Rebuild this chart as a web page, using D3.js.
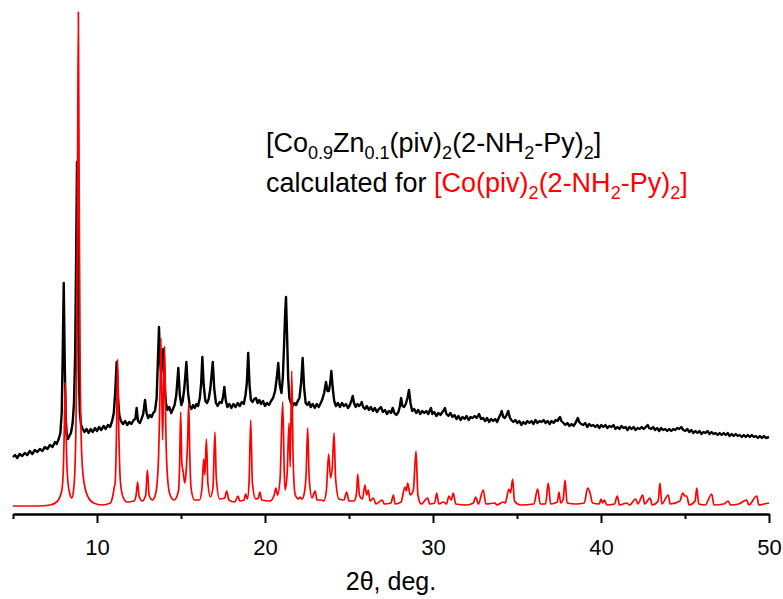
<!DOCTYPE html>
<html>
<head>
<meta charset="utf-8">
<script src="https://cdn.jsdelivr.net/npm/d3@7"></script>
<style>
  body { margin: 0; background: #fff; }
  svg { display: block; }
  text { font-family: "Liberation Sans", Arial, sans-serif; }
</style>
</head>
<body>
<svg id="chart" width="783" height="599"></svg>
<script>
// Measured powder pattern, [Co0.9Zn0.1(piv)2(2-NH2-Py)2]: [2theta, intensity (a.u.)]
const measured = [
  [5.0,56],[5.12,58],[5.25,55],[5.4,59],[5.55,57],[5.7,60],[5.85,58],[6.0,62],[6.15,59],[6.3,63],
  [6.45,61],[6.6,64],[6.75,62],[6.9,66],[7.05,64],[7.2,68],[7.35,66],[7.5,71],[7.6,69],[7.72,74],
  [7.82,80],[7.9,100],[7.96,160],[8.02,230],[8.08,150],[8.14,95],[8.2,78],[8.27,74],[8.35,77],[8.45,80],
  [8.55,90],[8.63,110],[8.7,160],[8.76,260],[8.81,351],[8.86,250],[8.92,140],[8.98,100],[9.05,88],[9.15,84],
  [9.25,81],[9.38,84],[9.5,80],[9.62,84],[9.75,81],[9.88,85],[10.0,82],[10.12,86],[10.25,83],[10.4,87],
  [10.52,84],[10.65,88],[10.78,86],[10.9,92],[11.0,100],[11.08,120],[11.17,151],[11.25,115],[11.33,98],[11.42,92],
  [11.55,89],[11.68,92],[11.8,88],[11.92,91],[12.05,89],[12.18,93],[12.28,94],[12.36,105],[12.44,92],[12.55,90],
  [12.65,94],[12.75,99],[12.86,113],[12.95,100],[13.05,95],[13.15,98],[13.25,96],[13.35,100],[13.45,102],[13.55,115],
  [13.62,150],[13.69,186],[13.76,150],[13.82,140],[13.89,155],[13.95,164],[14.02,130],[14.1,110],[14.2,103],[14.3,106],
  [14.42,100],[14.52,104],[14.62,108],[14.72,118],[14.84,145],[14.93,118],[15.02,108],[15.1,112],[15.2,125],[15.32,151],
  [15.42,120],[15.52,107],[15.62,104],[15.72,108],[15.82,105],[15.92,109],[16.02,107],[16.12,115],[16.2,130],[16.27,156],
  [16.35,128],[16.45,112],[16.55,110],[16.65,114],[16.75,125],[16.89,151],[16.98,124],[17.08,110],[17.18,107],[17.3,111],
  [17.42,110],[17.5,116],[17.58,126],[17.66,113],[17.76,106],[17.88,109],[18.0,105],[18.12,109],[18.25,106],[18.38,110],
  [18.5,107],[18.62,111],[18.74,109],[18.84,118],[18.92,130],[19.0,160],[19.08,128],[19.16,113],[19.26,111],[19.36,114],
  [19.46,115],[19.56,110],[19.66,113],[19.76,109],[19.88,112],[20.0,107],[20.12,110],[20.24,108],[20.36,112],[20.48,115],
  [20.6,122],[20.7,135],[20.79,150],[20.88,128],[20.98,120],[21.06,135],[21.14,170],[21.2,200],[21.25,216],[21.31,180],
  [21.38,135],[21.45,115],[21.55,110],[21.65,107],[21.75,110],[21.85,108],[21.95,112],[22.05,115],[22.15,130],[22.24,155],
  [22.33,125],[22.42,110],[22.52,108],[22.62,111],[22.72,106],[22.84,109],[22.96,105],[23.08,109],[23.2,106],[23.32,110],
  [23.42,114],[23.52,120],[23.63,131],[23.72,122],[23.8,122],[23.88,130],[23.95,142],[24.03,125],[24.12,112],[24.22,107],
  [24.34,110],[24.46,106],[24.58,110],[24.7,107],[24.82,109],[24.94,105],[25.05,108],[25.14,112],[25.22,117],[25.3,110],
  [25.4,106],[25.5,109],[25.6,107],[25.7,109],[25.76,111],[25.84,106],[25.95,104],[26.06,107],[26.18,103],[26.3,106],
  [26.42,102],[26.54,105],[26.66,101],[26.78,104],[26.9,106],[27.02,101],[27.14,103],[27.26,99],[27.38,102],[27.5,100],
  [27.6,105],[27.7,100],[27.82,98],[27.94,101],[28.02,106],[28.1,115],[28.18,107],[28.28,106],[28.38,109],[28.48,115],
  [28.57,123],[28.66,110],[28.76,102],[28.88,104],[29.0,100],[29.12,103],[29.24,99],[29.36,102],[29.48,100],[29.6,102],
  [29.72,99],[29.82,103],[29.88,105],[29.96,99],[30.08,101],[30.2,97],[30.32,100],[30.44,98],[30.56,101],[30.66,103],
  [30.71,105],[30.8,99],[30.92,97],[31.04,100],[31.16,96],[31.28,98],[31.4,94],[31.52,97],[31.64,93],[31.76,96],
  [31.88,94],[32.0,97],[32.12,93],[32.24,96],[32.36,95],[32.48,97],[32.6,95],[32.74,99],[32.86,94],[32.98,95],
  [33.1,92],[33.22,95],[33.34,91],[33.46,94],[33.58,92],[33.7,94],[33.82,91],[33.94,96],[34.03,99],[34.09,102],
  [34.18,96],[34.28,95],[34.38,98],[34.48,102],[34.56,96],[34.66,93],[34.78,91],[34.9,93],[35.02,90],[35.14,92],
  [35.26,88],[35.38,91],[35.5,89],[35.62,92],[35.74,90],[35.86,92],[35.98,89],[36.1,93],[36.22,90],[36.34,92],
  [36.46,91],[36.58,93],[36.7,90],[36.82,92],[36.94,89],[37.06,92],[37.18,90],[37.3,93],[37.42,92],[37.5,95],
  [37.56,96],[37.64,92],[37.76,90],[37.88,88],[38.0,90],[38.12,87],[38.24,89],[38.36,87],[38.48,90],[38.56,93],
  [38.62,95],[38.7,91],[38.82,89],[38.94,88],[39.06,90],[39.18,86],[39.3,89],[39.42,87],[39.54,88],[39.66,86],
  [39.78,88],[39.9,85],[40.02,88],[40.14,86],[40.26,88],[40.38,85],[40.5,87],[40.62,86],[40.74,88],[40.86,84],
  [40.98,86],[41.1,84],[41.22,87],[41.34,85],[41.46,86],[41.58,83],[41.7,86],[41.82,84],[41.94,86],[42.06,83],
  [42.18,85],[42.3,84],[42.42,86],[42.54,84],[42.66,86],[42.78,88],[42.86,85],[42.98,84],[43.1,86],[43.22,83],
  [43.34,85],[43.46,82],[43.58,85],[43.7,83],[43.82,84],[43.94,82],[44.06,84],[44.18,82],[44.3,84],[44.42,83],
  [44.54,85],[44.66,84],[44.78,86],[44.9,83],[45.02,82],[45.14,84],[45.26,81],[45.38,83],[45.5,80],[45.62,82],
  [45.74,80],[45.86,82],[45.98,79],[46.1,81],[46.22,80],[46.34,82],[46.46,79],[46.58,81],[46.7,79],[46.82,80],
  [46.94,78],[47.06,80],[47.18,78],[47.3,80],[47.42,78],[47.54,80],[47.66,77],[47.78,79],[47.9,77],[48.02,79],
  [48.14,77],[48.26,78],[48.38,76],[48.5,78],[48.62,76],[48.74,78],[48.86,76],[48.98,78],[49.1,76],[49.22,77],
  [49.34,75],[49.46,77],[49.58,75],[49.7,77],[49.82,75],[50.0,76]
];

// Pattern calculated for [Co(piv)2(2-NH2-Py)2]: [2theta, intensity (a.u.)]
const calculated = [
  [5,7],[6.5,7],[7.2,8],[7.6,11],[7.9,22],[8.0,45],[8.06,90],[8.11,131],[8.16,80],[8.25,35],
  [8.4,18],[8.5,15],[8.6,22],[8.7,50],[8.78,140],[8.84,330],[8.89,501],[8.94,320],[9.0,140],[9.1,55],
  [9.25,28],[9.5,15],[9.8,10],[10.3,8],[10.8,10],[10.95,18],[11.03,26],[11.08,30],[11.15,70],[11.23,154],
  [11.3,80],[11.4,30],[11.55,16],[11.8,11],[12.2,12],[12.33,18],[12.42,31],[12.5,17],[12.7,12],[12.9,18],
  [13.0,43],[13.1,18],[13.3,13],[13.5,20],[13.65,50],[13.75,120],[13.81,175],[13.9,73],[13.96,120],[14.03,167],
  [14.1,80],[14.2,35],[14.35,18],[14.6,13],[14.85,22],[14.92,50],[14.98,101],[15.05,50],[15.14,40],[15.22,30],
  [15.3,40],[15.4,75],[15.46,110],[15.52,60],[15.6,25],[15.8,13],[16.1,13],[16.25,25],[16.35,54],[16.42,38],
  [16.51,74],[16.6,30],[16.75,16],[16.9,25],[17.02,81],[17.1,35],[17.3,14],[17.6,15],[17.72,22],[17.85,13],
  [18.2,11],[18.39,17],[18.5,12],[18.75,13],[18.85,19],[18.95,14],[19.05,30],[19.15,93],[19.25,30],[19.45,14],
  [19.6,15],[19.7,21],[19.8,13],[20.3,12],[20.55,18],[20.65,25],[20.75,18],[20.9,35],[21.05,111],[21.15,40],
  [21.2,23],[21.32,40],[21.43,90],[21.5,46],[21.59,142],[21.68,50],[21.8,18],[22.0,14],[22.08,16],[22.2,14],
  [22.35,21],[22.45,40],[22.54,85],[22.63,35],[22.8,15],[22.98,22],[23.1,13],[23.38,13],[23.5,12],[23.65,22],
  [23.79,59],[23.9,35],[24.0,45],[24.11,80],[24.2,35],[24.4,14],[24.7,13],[24.86,21],[25.0,12],[25.3,12],
  [25.45,20],[25.52,39],[25.62,18],[25.8,14],[25.95,28],[26.05,18],[26.15,23],[26.25,12],[26.45,15],[26.6,9],
  [26.98,13],[27.1,9],[27.5,10],[27.64,18],[27.75,9],[28.1,11],[28.33,26],[28.42,22],[28.49,30],[28.65,18],
  [28.83,23],[28.99,62],[29.1,18],[29.3,9],[29.68,15],[29.8,9],[30.1,10],[30.22,20],[30.35,9],[30.62,11],
  [30.8,9],[30.95,17],[31.08,13],[31.21,20],[31.35,9],[32.0,8],[32.4,10],[32.54,16],[32.7,9],[32.99,23],
  [33.15,9],[33.69,10],[33.8,8],[34.18,11],[34.3,10],[34.52,24],[34.62,20],[34.74,34],[34.85,12],[35.2,8],
  [36.0,9],[36.23,24],[36.38,9],[36.7,9],[36.86,30],[37.0,9],[37.4,11],[37.5,21],[37.6,10],[37.75,14],
  [37.86,33],[37.98,10],[38.5,9],[39.0,10],[39.21,25],[39.35,20],[39.5,10],[39.9,9],[40.0,14],[40.1,10],
  [40.2,13],[40.35,8],[40.8,9],[40.97,17],[41.1,8],[41.53,10],[41.7,8],[42.06,14],[42.2,9],[42.48,18],
  [42.6,9],[42.92,15],[43.05,8],[43.4,12],[43.51,30],[43.62,9],[44.0,18],[44.12,9],[44.7,12],[44.86,20],
  [45.0,17],[45.1,17],[45.25,8],[45.6,12],[45.7,25],[45.82,9],[46.2,8],[46.59,19],[46.72,8],[47.3,9],
  [47.58,12],[47.7,8],[48.2,9],[48.67,13],[48.8,8],[49.27,17],[49.4,8],[49.7,9],[50,10]
];

// Axis ticks and labels
const majorTicks = [10, 20, 30, 40, 50];
const minorTicks = [5, 15, 25, 35, 45];
const xTitle = "2\u03B8, deg.";

// Legend lines: [text, isSubscript]
const legendMeasured = [["[Co",0],["0.9",1],["Zn",0],["0.1",1],["(piv)",0],["2",1],["(2-NH",0],["2",1],["-Py)",0],["2",1],["]",0]];
const legendCalcPrefix = "calculated for ";
const legendCalc = [["[Co(piv)",0],["2",1],["(2-NH",0],["2",1],["-Py)",0],["2",1],["]",0]];

const svg = d3.select("#chart");

const x = d3.scaleLinear().domain([5, 50]).range([13, 769]);
const y = d3.scaleLinear().domain([0, 505]).range([513, 8]);

const line = d3.line().x(d => x(d[0])).y(d => y(d[1]));

svg.append("path")
  .datum(measured)
  .attr("fill", "none")
  .attr("stroke", "#000")
  .attr("stroke-width", 2.4)
  .attr("stroke-linejoin", "round")
  .attr("d", line);

svg.append("path")
  .datum(calculated)
  .attr("fill", "none")
  .attr("stroke", "#ff0000")
  .attr("stroke-width", 1.7)
  .attr("stroke-linejoin", "round")
  .attr("d", line.curve(d3.curveMonotoneX));

// Bottom axis: minor ticks, then major ticks with labels
const axisY = y(0) + 1;
const gMinor = svg.append("g").attr("transform", `translate(0,${axisY})`)
  .call(d3.axisBottom(x).tickValues(minorTicks).tickSize(5).tickSizeOuter(0).tickFormat(""));
const gMajor = svg.append("g").attr("transform", `translate(0,${axisY})`)
  .call(d3.axisBottom(x).tickValues(majorTicks).tickSize(9).tickSizeOuter(0).tickPadding(16).tickFormat(d3.format("d")));

[gMinor, gMajor].forEach(g => {
  g.select(".domain").attr("stroke", "#000").attr("stroke-width", 2);
  g.selectAll(".tick line").attr("stroke", "#000").attr("stroke-width", 2);
});
gMajor.selectAll(".tick text")
  .attr("fill", "#000")
  .style("font-family", '"Liberation Sans", Arial, sans-serif')
  .style("font-size", "22px");

svg.append("text")
  .attr("x", (x(5) + x(50)) / 2)
  .attr("y", 590)
  .attr("text-anchor", "middle")
  .style("font-size", "25px")
  .attr("fill", "#000")
  .text(xTitle);

// Legend
function addRuns(textSel, runs, color) {
  let inSub = false;
  runs.forEach(([s, sub]) => {
    const t = textSel.append("tspan").text(s).attr("fill", color);
    if (sub && !inSub) t.attr("dy", 7).style("font-size", "18px");
    else if (sub) t.style("font-size", "18px");
    else if (!sub && inSub) t.attr("dy", -7);
    inSub = !!sub;
  });
}

const leg1 = svg.append("text").attr("x", 266).attr("y", 152).style("font-size", "27px");
addRuns(leg1, legendMeasured, "#000");

const leg2 = svg.append("text").attr("x", 266).attr("y", 192).style("font-size", "27px");
leg2.append("tspan").text(legendCalcPrefix).attr("fill", "#000");
addRuns(leg2, legendCalc, "#ff0000");
</script>
</body>
</html>
